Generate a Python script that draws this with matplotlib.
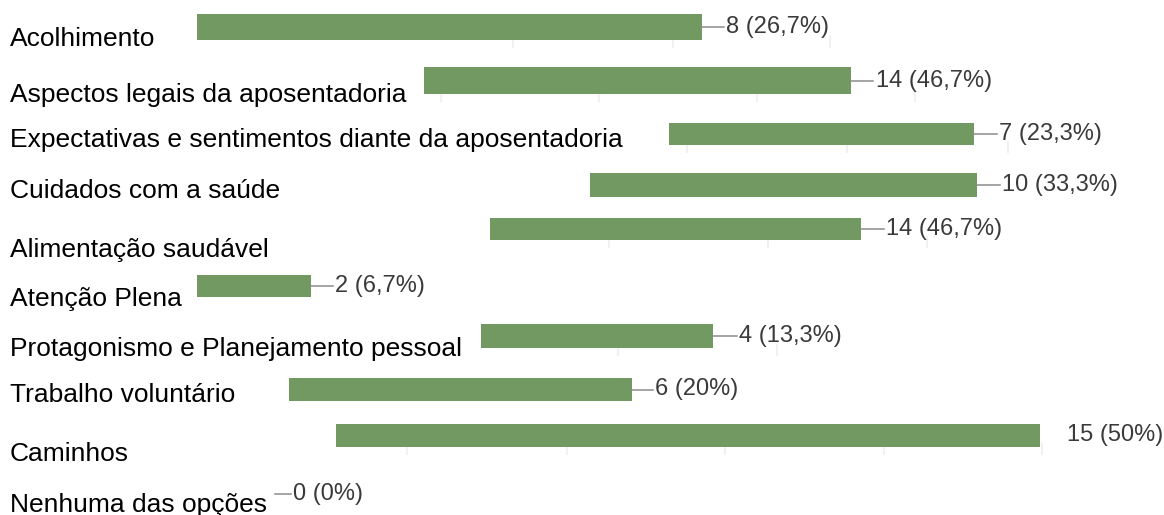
import matplotlib
matplotlib.use('Agg')
import matplotlib.pyplot as plt

plt.rcParams['font.family'] = ['Liberation Sans', 'DejaVu Sans']

# --- data ----------------------------------------------------------------
categories = [
    'Acolhimento',
    'Aspectos legais da aposentadoria',
    'Expectativas e sentimentos diante da aposentadoria',
    'Cuidados com a saúde',
    'Alimentação saudável',
    'Atenção Plena',
    'Protagonismo e Planejamento pessoal',
    'Trabalho voluntário',
    'Caminhos',
    'Nenhuma das opções',
]
counts = [8, 14, 7, 10, 14, 2, 4, 6, 15, 0]
percents = ['26,7%', '46,7%', '23,3%', '33,3%', '46,7%', '6,7%', '13,3%', '20%', '50%', '0%']

# each row of the original was drawn on its own shifted scale (pixels)
bar_left = [197, 424, 669, 590, 490, 197, 481, 289, 336, 275]
bar_right = [702, 851, 974, 977, 861, 311, 713, 632, 1040, 275]
bar_top = [14, 67, 123, 173, 218, 275, 324, 378, 424, 494]
bar_bottom = [40, 94, 145, 197, 240, 297, 348, 401, 447, 494]
label_base = [46, 102, 147, 198, 257, 306, 356, 402, 461, 512]
leader_len = [22, 22, 23, 23, 23, 22, 24, 21, 0, 16]
text_gap = [2, 3, 2, 2, 2, 2, 2, 2, 27, 2]

# faint gridline stubs that peek out below some bars
grid_rows = [0, 1, 2, 4, 6, 8]
grid_x = [
    [513, 673, 830],
    [441, 599, 757, 915],
    [687, 847, 1008],
    [609, 768, 927],
    [618, 777],
    [407, 567, 725, 884, 1042],
]

BAR = '#729962'
W, H = 1164, 515

fig = plt.figure(figsize=(W / 100, H / 100), dpi=100)
ax = fig.add_axes([0, 0, 1, 1])
ax.set_xlim(0, W)
ax.set_ylim(H, 0)
ax.axis('off')

# grid stubs first so bars sit on top
for r, xs in zip(grid_rows, grid_x):
    for gx in xs:
        ax.plot([gx, gx], [bar_bottom[r] - 4, bar_bottom[r] + 8], color='#f1f1f1', lw=1.5,
                solid_capstyle='butt', zorder=1)

for i, cat in enumerate(categories):
    mid = (bar_top[i] + bar_bottom[i]) / 2
    h = bar_bottom[i] - bar_top[i]
    if h > 0:
        ax.barh(mid, bar_right[i] - bar_left[i], left=bar_left[i], height=h,
                color=BAR, edgecolor='none', zorder=2)
    # category label
    ax.text(10, label_base[i], cat, fontsize=19, color='black', va='baseline', ha='left', zorder=3)
    # leader line + value
    x_end = bar_right[i] + leader_len[i]
    if leader_len[i] > 0:
        ax.plot([bar_right[i], x_end], [mid, mid], color='#8c8c8c', lw=1.1, zorder=3)
    ax.text(x_end + text_gap[i], mid, f'{counts[i]} ({percents[i]})', fontsize=17,
            color='#3a3a3a', va='center', ha='left', zorder=3)

fig.savefig('out.png', dpi=100, facecolor='white')
